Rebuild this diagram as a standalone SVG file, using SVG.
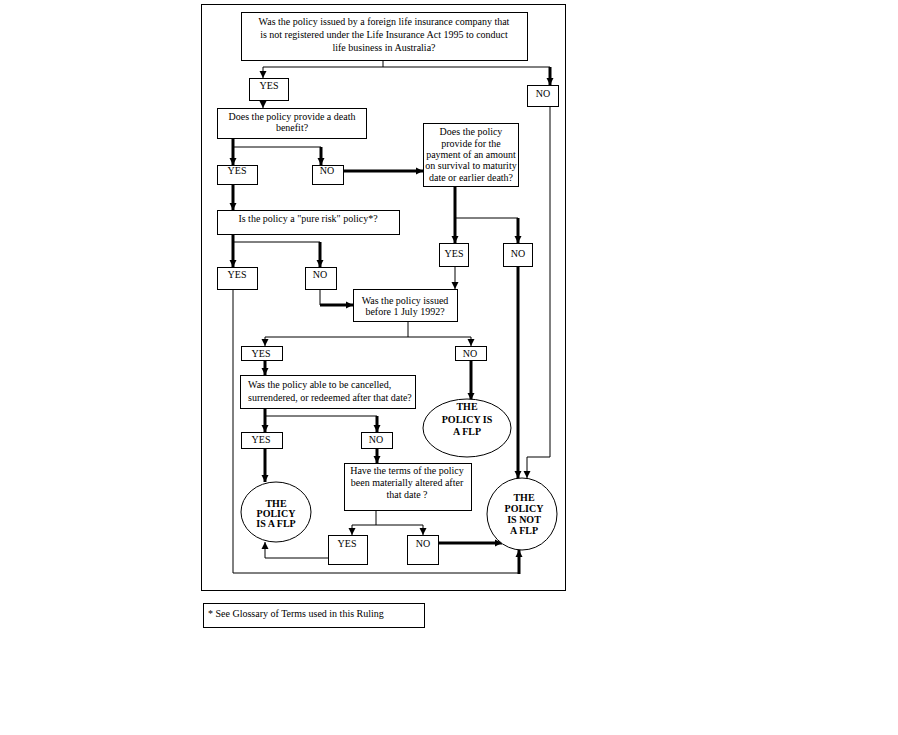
<svg xmlns="http://www.w3.org/2000/svg" width="898" height="735" viewBox="0 0 898 735">
<style>
text{font-family:"Liberation Serif","Times New Roman",serif;font-size:10px;fill:#000}
.c{text-anchor:middle}
.b{font-weight:bold}
.box{fill:#fff;stroke:#000;stroke-width:1}
.ell{fill:#fff;stroke:#000;stroke-width:1}
.thin{fill:none;stroke:#000;stroke-width:1}
.thick{fill:none;stroke:#000;stroke-width:3}
</style>
<defs>
<marker id="a" markerUnits="userSpaceOnUse" markerWidth="8" markerHeight="8" refX="7" refY="4" orient="auto">
<path d="M0,0.5 L7,4 L0,7.5 Z" fill="#000"/>
</marker>
</defs>
<rect x="0" y="0" width="898" height="735" fill="#fff"/>
<rect id="frame" x="201.5" y="4.5" width="364" height="586" fill="none" stroke="#000" stroke-width="1"/>

<g id="connectors">
<path class="thin" d="M383,60 V67 M263,67 H550"/>
<path class="thin" d="M263,67 V78" marker-end="url(#a)"/>
<path class="thick" d="M550,67 V85" marker-end="url(#a)"/>
<path class="thin" d="M263,100 V108" marker-end="url(#a)"/>
<path class="thick" d="M233,139 V165" marker-end="url(#a)"/>
<path class="thin" d="M233,147 H321"/>
<path class="thick" d="M321,147 V165" marker-end="url(#a)"/>
<path class="thick" d="M343,171 H423" marker-end="url(#a)"/>
<path class="thick" d="M233,184 V210" marker-end="url(#a)"/>
<path class="thick" d="M455,186 V243" marker-end="url(#a)"/>
<path class="thin" d="M455,218 H518"/>
<path class="thick" d="M518,218 V243" marker-end="url(#a)"/>
<path class="thick" d="M233,234 V267" marker-end="url(#a)"/>
<path class="thin" d="M233,242 H320"/>
<path class="thick" d="M320,242 V267" marker-end="url(#a)"/>
<path class="thin" d="M320,289 V305"/>
<path class="thick" d="M320,305 H353" marker-end="url(#a)"/>
<path class="thin" d="M455,266 V289" marker-end="url(#a)"/>
<path class="thick" d="M518,266 V478" marker-end="url(#a)"/>
<path class="thin" d="M550,107 V457 H527 V478" marker-end="url(#a)"/>
<path class="thin" d="M233,289 V573 H519"/>
<path class="thick" d="M519,574 V550" marker-end="url(#a)"/>
<path class="thin" d="M408,321 V337 M265,337 H471"/>
<path class="thin" d="M265,337 V346" marker-end="url(#a)"/>
<path class="thin" d="M471,337 V346" marker-end="url(#a)"/>
<path class="thick" d="M265,360 V375" marker-end="url(#a)"/>
<path class="thick" d="M471,360 V400" marker-end="url(#a)"/>
<path class="thick" d="M265,408 V432" marker-end="url(#a)"/>
<path class="thin" d="M265,416 H377"/>
<path class="thick" d="M377,416 V432" marker-end="url(#a)"/>
<path class="thick" d="M265,448 V482" marker-end="url(#a)"/>
<path class="thick" d="M377,448 V463" marker-end="url(#a)"/>
<path class="thin" d="M376,510 V525 M352,525 H423"/>
<path class="thin" d="M352,525 V535" marker-end="url(#a)"/>
<path class="thin" d="M423,525 V535" marker-end="url(#a)"/>
<path class="thin" d="M328,558 H265 V542" marker-end="url(#a)"/>
<path class="thick" d="M438,543 H502" marker-end="url(#a)"/>
</g>

<g id="q1">
<rect class="box" x="241.5" y="12.5" width="286" height="48"/>
<text class="c" x="384" y="25">Was the policy issued by a foreign life insurance company that</text>
<text class="c" x="384" y="38">is not registered under the Life Insurance Act 1995 to conduct</text>
<text class="c" x="384" y="51">life business in Australia?</text>
</g>
<g id="yes1"><rect class="box" x="249.5" y="78.5" width="39" height="22"/><text class="c" x="269" y="89">YES</text></g>
<g id="no1"><rect class="box" x="527.5" y="85.5" width="31" height="21"/><text class="c" x="543" y="97">NO</text></g>

<g id="q2">
<rect class="box" x="217.5" y="108.5" width="149" height="30"/>
<text class="c" x="292" y="120">Does the policy provide a death</text>
<text class="c" x="292" y="131">benefit?</text>
</g>
<g id="yes2"><rect class="box" x="217.5" y="165.5" width="40" height="19"/><text class="c" x="237" y="174">YES</text></g>
<g id="no2"><rect class="box" x="312.5" y="165.5" width="31" height="19"/><text class="c" x="327" y="174">NO</text></g>

<g id="q3">
<rect class="box" x="423.5" y="123.5" width="95" height="63"/>
<text class="c" x="471" y="135" font-size="9.5">Does the policy</text>
<text class="c" x="471" y="147" font-size="9.5">provide for the</text>
<text class="c" x="471" y="158" font-size="9.5">payment of an amount</text>
<text class="c" x="471" y="169" font-size="9.5">on survival to maturity</text>
<text class="c" x="471" y="181" font-size="9.5">date or earlier death?</text>
</g>

<g id="q4">
<rect class="box" x="217.5" y="210.5" width="182" height="24"/>
<text class="c" x="308" y="222">Is the policy a "pure risk" policy*?</text>
</g>
<g id="yes3"><rect class="box" x="439.5" y="243.5" width="29" height="23"/><text class="c" x="454" y="257">YES</text></g>
<g id="no3"><rect class="box" x="503.5" y="243.5" width="29" height="23"/><text class="c" x="518" y="257">NO</text></g>
<g id="yes4"><rect class="box" x="217.5" y="267.5" width="40" height="22"/><text class="c" x="237" y="278">YES</text></g>
<g id="no4"><rect class="box" x="305.5" y="267.5" width="31" height="22"/><text class="c" x="320" y="278">NO</text></g>

<g id="q5">
<rect class="box" x="353.5" y="289.5" width="104" height="32"/>
<text class="c" x="405" y="304">Was the policy issued</text>
<text class="c" x="405" y="315">before 1 July 1992?</text>
</g>
<g id="yes5"><rect class="box" x="241.5" y="346.5" width="41" height="14"/><text class="c" x="261" y="357">YES</text></g>
<g id="no5"><rect class="box" x="455.5" y="346.5" width="31" height="14"/><text class="c" x="470" y="357">NO</text></g>

<g id="q6">
<rect class="box" x="240.5" y="375.5" width="175" height="33"/>
<text x="248" y="388" font-size="9.7">Was the policy able to be cancelled,</text>
<text x="248" y="401" font-size="9.7">surrendered, or redeemed after that date?</text>
</g>
<g id="flp1">
<ellipse class="ell" cx="467" cy="428" rx="44" ry="29"/>
<text class="c b" x="467" y="410">THE</text>
<text class="c b" x="467" y="423">POLICY IS</text>
<text class="c b" x="467" y="435">A FLP</text>
</g>
<g id="yes6"><rect class="box" x="241.5" y="432.5" width="41" height="16"/><text class="c" x="261" y="443">YES</text></g>
<g id="no6"><rect class="box" x="361.5" y="432.5" width="31" height="16"/><text class="c" x="376" y="443">NO</text></g>

<g id="q7">
<rect class="box" x="344.5" y="463.5" width="127" height="47"/>
<text class="c" x="407" y="474">Have the terms of the policy</text>
<text class="c" x="407" y="486">been materially altered after</text>
<text class="c" x="407" y="498">that date ?</text>
</g>
<g id="flp2">
<ellipse class="ell" cx="276" cy="512" rx="35" ry="30"/>
<text class="c b" x="276" y="507">THE</text>
<text class="c b" x="276" y="517">POLICY</text>
<text class="c b" x="276" y="527">IS A FLP</text>
</g>
<g id="yes7"><rect class="box" x="328.5" y="535.5" width="39" height="29"/><text class="c" x="347" y="547">YES</text></g>
<g id="no7"><rect class="box" x="407.5" y="535.5" width="31" height="29"/><text class="c" x="423" y="547">NO</text></g>

<g id="notflp">
<ellipse class="ell" cx="522" cy="514" rx="35" ry="36"/>
<text class="c b" x="524" y="501">THE</text>
<text class="c b" x="524" y="512">POLICY</text>
<text class="c b" x="524" y="523">IS NOT</text>
<text class="c b" x="524" y="534">A FLP</text>
</g>

<g id="footnote">
<rect class="box" x="203.5" y="603.5" width="221" height="24"/>
<text x="208" y="617">* See Glossary of Terms used in this Ruling</text>
</g>
</svg>
